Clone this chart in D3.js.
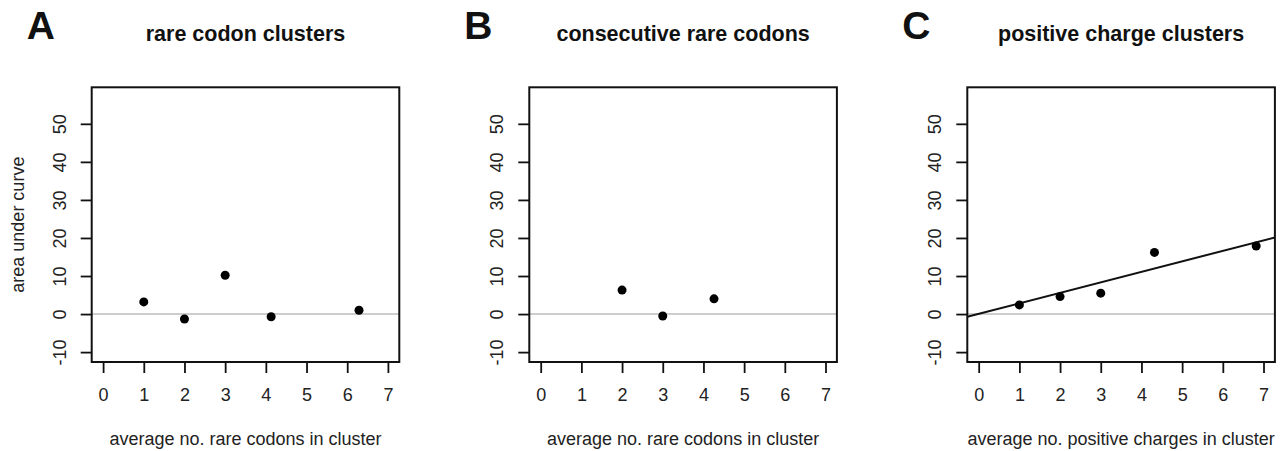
<!DOCTYPE html>
<html>
<head>
<meta charset="utf-8">
<script src="https://cdn.jsdelivr.net/npm/d3@7"></script>
<style>
  body { margin: 0; background: #fff; }
  svg { display: block; font-family: "Liberation Sans", Arial, sans-serif; }
</style>
</head>
<body>
<div id="chart"></div>
<script>
// values
const panelLetters = ["A", "B", "C"];
const panelTitles = ["rare codon clusters", "consecutive rare codons", "positive charge clusters"];
const xTitles = ["average no. rare codons in cluster", "average no. rare codons in cluster", "average no. positive charges in cluster"];
const xTicks = [0, 1, 2, 3, 4, 5, 6, 7];
const yTicks = [-10, 0, 10, 20, 30, 40, 50];

const rareX = [1, 2, 3, 4.13, 6.29];
const rareY = [3.2, -1.3, 10.2, -0.7, 1.0];
const consecX = [2, 3, 4.26];
const consecY = [6.3, -0.5, 4.0];
const chargeX = [1, 2, 3, 4.32, 6.82];
const chargeY = [2.4, 4.6, 5.5, 16.2, 17.9];
// fitted line shown in panel C: [intercept, slope]
const chargeFit = [0.05, 2.76];

const panelX = [rareX, consecX, chargeX];
const panelY = [rareY, consecY, chargeY];
const panelFit = [null, null, chargeFit];

const width = 1281, height = 451;
const boxW = 307.6, boxH = 274.7, boxTop = 87.3;
const boxLefts = [91.7, 529.3, 967.3];

const svg = d3.select("#chart").append("svg")
    .attr("width", width)
    .attr("height", height);

svg.append("rect").attr("width", width).attr("height", height).attr("fill", "#fff");

const x = d3.scaleLinear().domain([-0.28, 7.28]).range([0, boxW]);
const y = d3.scaleLinear().domain([-12.6, 59.6]).range([boxH, 0]);

panelLetters.forEach(function(letter, i) {
    const g = svg.append("g")
        .attr("transform", "translate(" + boxLefts[i] + "," + boxTop + ")");

    g.append("clipPath").attr("id", "clip" + i)
        .append("rect").attr("width", boxW).attr("height", boxH);

    // panel letter and title
    g.append("text")
        .attr("x", -65)
        .attr("y", -48.3)
        .style("font-size", "39px")
        .style("font-weight", "bold")
        .attr("fill", "#111")
        .text(letter);

    g.append("text")
        .attr("x", boxW / 2)
        .attr("y", -46.8)
        .style("text-anchor", "middle")
        .style("font-size", "21.5px")
        .style("font-weight", "bold")
        .attr("fill", "#111")
        .text(panelTitles[i]);

    // axes
    const xAxis = g.append("g")
        .attr("transform", "translate(0," + boxH + ")")
        .call(d3.axisBottom(x).tickValues(xTicks).tickFormat(d => String(d))
            .tickSize(11).tickSizeOuter(0).tickPadding(15.5));
    xAxis.attr("font-size", 18).attr("font-family", null);
    xAxis.select(".domain").remove();
    xAxis.selectAll("line").attr("stroke", "#111").attr("stroke-width", 1.8);
    xAxis.selectAll("text").attr("fill", "#222");

    const yAxis = g.append("g")
        .call(d3.axisLeft(y).tickValues(yTicks).tickFormat(d => String(d))
            .tickSize(11).tickSizeOuter(0));
    yAxis.attr("font-size", 18).attr("font-family", null);
    yAxis.select(".domain").remove();
    yAxis.selectAll("line").attr("stroke", "#111").attr("stroke-width", 1.8);
    yAxis.selectAll("text")
        .attr("transform", "rotate(-90)")
        .attr("x", 0)
        .attr("y", -26)
        .attr("dy", 0)
        .attr("text-anchor", "middle")
        .attr("fill", "#222");

    g.append("text")
        .attr("x", boxW / 2)
        .attr("y", 445 - boxTop)
        .style("text-anchor", "middle")
        .style("font-size", "18px")
        .attr("fill", "#222")
        .text(xTitles[i]);

    if (i === 0) {
        g.append("text")
            .attr("transform", "rotate(-90)")
            .attr("x", -boxH / 2)
            .attr("y", 24 - boxLefts[0])
            .style("text-anchor", "middle")
            .style("font-size", "18px")
            .attr("fill", "#222")
            .text("area under curve");
    }

    const plot = g.append("g").attr("clip-path", "url(#clip" + i + ")");

    // zero reference line
    plot.append("line")
        .attr("x1", 0)
        .attr("x2", boxW)
        .attr("y1", y(0))
        .attr("y2", y(0))
        .attr("stroke", "#bdbdbd")
        .attr("stroke-width", 1.6);

    const fit = panelFit[i];
    if (fit) {
        const xd = x.domain();
        plot.append("line")
            .attr("x1", x(xd[0]))
            .attr("x2", x(xd[1]))
            .attr("y1", y(fit[0] + fit[1] * xd[0]))
            .attr("y2", y(fit[0] + fit[1] * xd[1]))
            .attr("stroke", "#111")
            .attr("stroke-width", 2);
    }

    const pts = panelX[i].map((v, k) => ({x: v, y: panelY[i][k]}));
    plot.selectAll("circle")
        .data(pts)
        .enter().append("circle")
        .attr("cx", d => x(d.x))
        .attr("cy", d => y(d.y))
        .attr("r", 4.5)
        .attr("fill", "#000");

    g.append("rect")
        .attr("width", boxW)
        .attr("height", boxH)
        .attr("fill", "none")
        .attr("stroke", "#111")
        .attr("stroke-width", 2);
});
</script>
</body>
</html>
